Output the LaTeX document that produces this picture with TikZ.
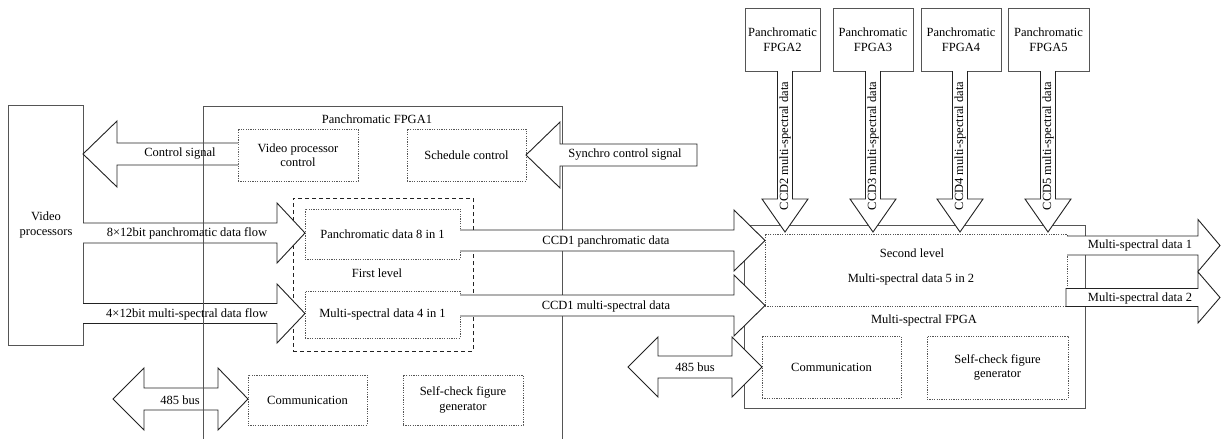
\documentclass[tikz,border=0pt]{standalone}
\usepackage{fontspec}
\setmainfont{Liberation Serif}
\definecolor{boxgray}{HTML}{555555}
\definecolor{arrowline}{HTML}{222222}
\newcommand{\fsz}{\fontsize{12.5}{14.5}\selectfont}
% open block arrow: x0, xbase, xtip, y, shaft half, head half
\newcommand{\blkH}[6]{%
  \filldraw[arr] (#1,#4-#5) -- (#2,#4-#5) -- (#2,#4-#6) -- (#3,#4) -- (#2,#4+#6) -- (#2,#4+#5) -- (#1,#4+#5);}
% closed block arrow
\newcommand{\blkHc}[6]{%
  \filldraw[arr] (#1,#4-#5) -- (#2,#4-#5) -- (#2,#4-#6) -- (#3,#4) -- (#2,#4+#6) -- (#2,#4+#5) -- (#1,#4+#5) -- cycle;}
% vertical down arrow: x, y0, ybase, ytip, shaft half, head half
\newcommand{\blkV}[6]{%
  \filldraw[arr] (#1-#5,#2) -- (#1-#5,#3) -- (#1-#6,#3) -- (#1,#4) -- (#1+#6,#3) -- (#1+#5,#3) -- (#1+#5,#2);}
% double arrow: tipL, baseL, baseR, tipR, y, shaft half, head half
\newcommand{\blkD}[7]{%
  \filldraw[arr] (#2,#5-#6) -- (#3,#5-#6) -- (#3,#5-#7) -- (#4,#5) -- (#3,#5+#7) -- (#3,#5+#6) -- (#2,#5+#6) -- (#2,#5+#7) -- (#1,#5) -- (#2,#5-#7) -- cycle;}
\begin{document}
\begin{tikzpicture}[x=1pt,y=-1pt,
  every node/.style={font=\fsz},
  box/.style={draw=boxgray, line width=0.9pt, fill=white, align=center, inner sep=0pt},
  dotbox/.style={draw=boxgray, line width=0.8pt, dash pattern=on 1.2pt off 1.2pt, align=center, inner sep=0pt},
  dashbox/.style={draw=arrowline, line width=0.9pt, dash pattern=on 4pt off 3pt, inner sep=0pt},
  frame/.style={draw=boxgray, line width=0.9pt},
  arr/.style={draw=arrowline, line width=0.9pt, fill=white, line join=miter},
  lbl/.style={inner sep=0pt, align=center}]
\useasboundingbox[fill=white] (0,0) rectangle (1221,439);

% Panchromatic FPGA1 frame
\draw[frame] (203,439) -- (203,106) -- (562,106) -- (562,439);
\node[lbl] (fpga1) at (377,119) {Panchromatic FPGA1};

% left side
\node[box, minimum width=75, minimum height=240] (vp) at (46,225) {Video\\processors};
\node[dotbox, minimum width=120, minimum height=52] (vpc) at (298,155) {Video processor\\control};
\node[dotbox, minimum width=119, minimum height=52] (sch) at (466.5,155) {Schedule control};
\node[dashbox, minimum width=180, minimum height=153] (first) at (383,274.5) {};
\node[lbl] (firstl) at (377,273) {First level};
\node[dotbox, minimum width=155, minimum height=50] (pan8) at (382.5,234) {Panchromatic data 8 in 1};
\node[dotbox, minimum width=155, minimum height=47] (ms4) at (382.5,314.5) {Multi-spectral data 4 in 1};
\node[dotbox, minimum width=119, minimum height=50] (com1) at (307.5,400) {Communication};
\node[dotbox, minimum width=120, minimum height=50] (sc1) at (463,400) {Self-check figure\\generator};

% right side
\node[box, minimum width=341, minimum height=183] (msf) at (914.5,316.5) {};
\node[dotbox, minimum width=302, minimum height=72] (sl) at (916,270) {};
\node[lbl] (sll) at (912,253) {Second level};
\node[lbl] (sl52) at (911,279) {Multi-spectral data 5 in 2};
\node[lbl] (msfl) at (924,320) {Multi-spectral FPGA};
\node[dotbox, minimum width=139, minimum height=62] (com2) at (831.5,367) {Communication};
\node[dotbox, minimum width=141, minimum height=63] (sc2) at (997.5,367.5) {Self-check figure\\generator};

% top FPGAs
\node[box, minimum width=75, minimum height=63] (f2) at (782.5,39.5) {Panchromatic\\FPGA2};
\node[box, minimum width=80, minimum height=63] (f3) at (873,39.5) {Panchromatic\\FPGA3};
\node[box, minimum width=80, minimum height=63] (f4) at (961,39.5) {Panchromatic\\FPGA4};
\node[box, minimum width=81, minimum height=63] (f5) at (1048.5,39.5) {Panchromatic\\FPGA5};

% arrows
\blkH{238}{117}{83}{154}{11}{33}
\blkHc{697}{560}{526}{155}{11}{33}
\blkH{83}{277}{305}{233}{10}{30}
\blkH{83}{277}{305}{313.5}{10}{29.5}
\blkH{460}{734}{765}{240.5}{10.5}{30.5}
\blkH{460}{734}{765}{305.5}{10.5}{30.5}
\blkH{1067}{1198}{1220}{245.5}{9.5}{26}
\blkHc{1066}{1198}{1220}{297.5}{9}{25.5}
\blkD{113}{144}{218}{248}{399}{11}{31}
\blkD{628}{658}{732}{762}{367}{11}{30}
\blkV{785}{71}{199}{232}{7.5}{23}
\blkV{873}{71}{199}{232}{7.5}{23}
\blkV{960}{71}{199}{232}{7.5}{23}
\blkV{1048}{71}{199}{232}{7.5}{23}

% FPGA1 left line on top
\draw[frame] (203,106) -- (203,439);

% arrow labels
\node[lbl] (l1) at (180,154) {Control signal};
\node[lbl] (l2) at (625,155) {Synchro control signal};
\node[lbl] (l3) at (187,233) {8×12bit panchromatic data flow};
\node[lbl] (l4) at (187,314) {4×12bit multi-spectral data flow};
\node[lbl] (l5) at (606,241) {CCD1 panchromatic data};
\node[lbl] (l6) at (606,306) {CCD1 multi-spectral data};
\node[lbl] (l7) at (180,400) {485 bus};
\node[lbl] (l8) at (695,367) {485 bus};
\node[lbl] (l9) at (1140,245) {Multi-spectral data 1};
\node[lbl] (l10) at (1140,298) {Multi-spectral data 2};
\node[lbl, rotate=90] (c2) at (785,146) {CCD2 multi-spectral data};
\node[lbl, rotate=90] (c3) at (873,146) {CCD3 multi-spectral data};
\node[lbl, rotate=90] (c4) at (960,146) {CCD4 multi-spectral data};
\node[lbl, rotate=90] (c5) at (1048,146) {CCD5 multi-spectral data};
\end{tikzpicture}
\end{document}
